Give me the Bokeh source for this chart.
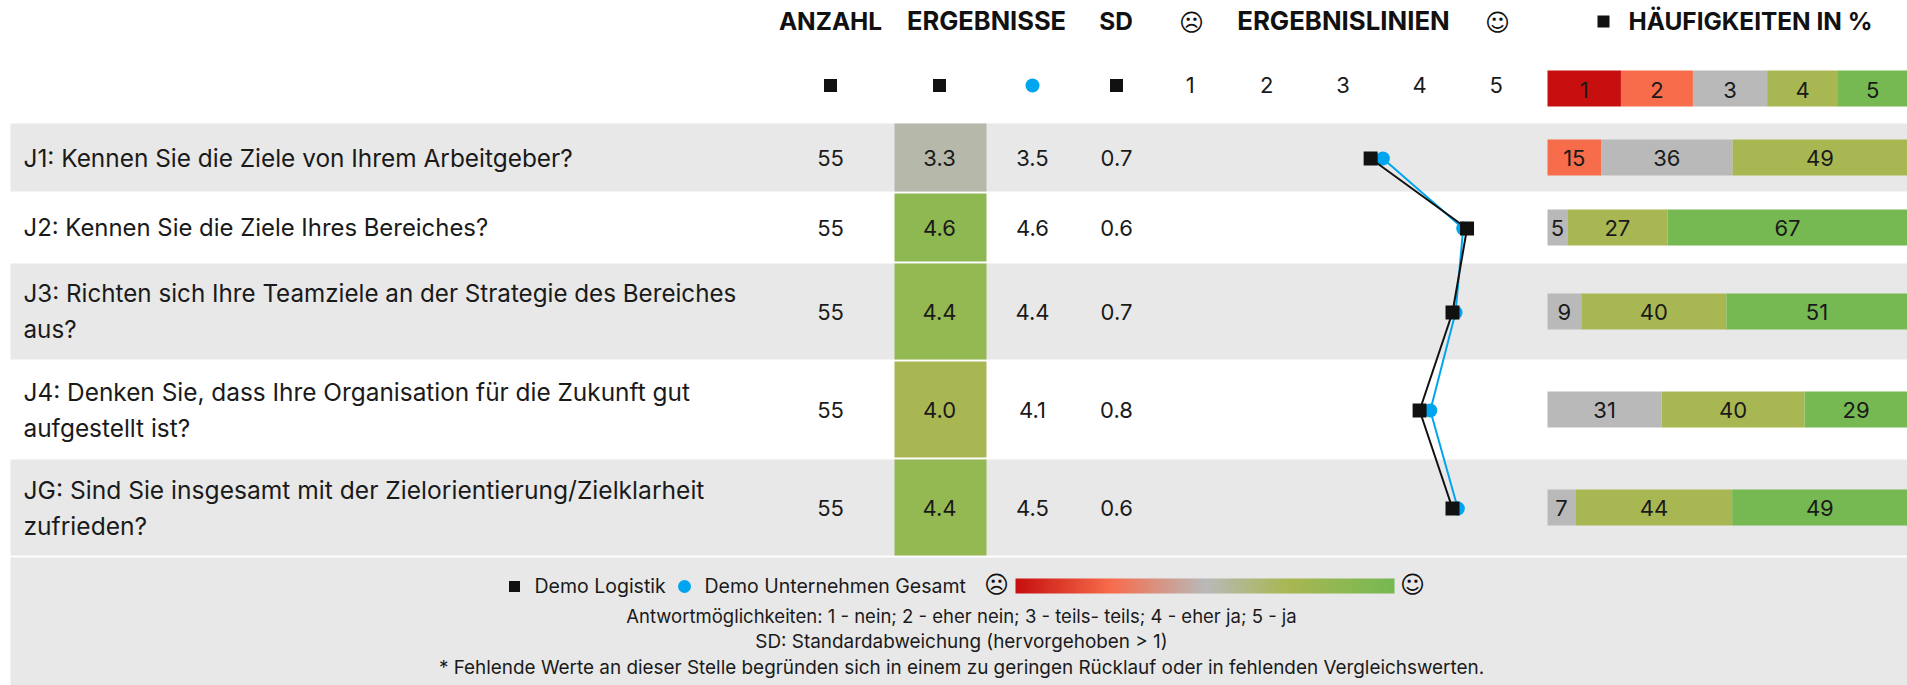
import numpy as np
from bokeh.plotting import figure
from bokeh.models import Range1d, LinearColorMapper
from bokeh.core.properties import value
from bokeh.embed import file_html
from bokeh.resources import INLINE

FONT = "Inter"
ICON = "DejaVu Sans"

# ---- data ----
question_lines = [
    ["J1: Kennen Sie die Ziele von Ihrem Arbeitgeber?"],
    ["J2: Kennen Sie die Ziele Ihres Bereiches?"],
    ["J3: Richten sich Ihre Teamziele an der Strategie des Bereiches", "aus?"],
    ["J4: Denken Sie, dass Ihre Organisation für die Zukunft gut", "aufgestellt ist?"],
    ["JG: Sind Sie insgesamt mit der Zielorientierung/Zielklarheit", "zufrieden?"],
]
counts = ["55", "55", "55", "55", "55"]
result_labels = ["3.3", "4.6", "4.4", "4.0", "4.4"]
company_labels = ["3.5", "4.6", "4.4", "4.1", "4.5"]
sd_labels = ["0.7", "0.6", "0.7", "0.8", "0.6"]
result_colors = ["#B6B8A9", "#8DB852", "#94B852", "#A9B752", "#94B852"]
demo_values = [3.36, 4.62, 4.43, 4.00, 4.43]
company_values = [3.52, 4.57, 4.47, 4.14, 4.50]
score_ticks = ["1", "2", "3", "4", "5"]
scale_shares = [20.4, 20.0, 20.6, 19.7, 19.3]
scale_colors = ["#C70F0F", "#F76C4B", "#B9B9B9", "#A9B752", "#76B852"]
freq_values = [
    [0, 14.9, 36.5, 48.6, 0],
    [0, 0, 5.5, 27.8, 66.7],
    [0, 0, 9.4, 40.3, 50.3],
    [0, 0, 31.7, 39.7, 28.6],
    [0, 0, 7.8, 43.5, 48.7],
]
freq_labels = [
    ["", "15", "36", "49", ""],
    ["", "", "5", "27", "67"],
    ["", "", "9", "40", "51"],
    ["", "", "31", "40", "29"],
    ["", "", "7", "44", "49"],
]
legend_demo = "Demo Logistik"
legend_company = "Demo Unternehmen Gesamt"
footnotes = [
    "Antwortmöglichkeiten: 1 - nein; 2 - eher nein; 3 - teils- teils; 4 - eher ja; 5 - ja",
    "SD: Standardabweichung (hervorgehoben > 1)",
    "* Fehlende Werte an dieser Stelle begründen sich in einem zu geringen Rücklauf oder in fehlenden Vergleichswerten.",
]

# ---- layout (page pixels) ----
W0, W1, H0, H1 = 0, 1907, 0, 685
BAND_L = 10
row_top = [123, 193, 263, 361, 459]
row_bot = [191, 261, 359, 457, 555]
row_mid = [157, 227, 311, 409, 507]
LINE_GAP = 18
X_LABEL, X_COUNT, X_RES, X_COMP, X_SD = 23, 830, 939, 1032, 1116
RES_L, RES_R = 894, 986
S1_X, S_STEP = 1189.6, 76.5
P0_X, P_STEP = 1547.0, 3.6
question_sizes = [24.4, 23.9, 24.2, 24.4, 24.6]
NUM_SIZE = 22

p = figure(width=W1 - W0, height=H1 - H0, output_backend="svg", toolbar_location=None,
           x_range=Range1d(W0, W1), y_range=Range1d(H1, H0),
           min_border=0, outline_line_color=None, x_axis_location=None, y_axis_location=None)
p.grid.visible = False
p.background_fill_color = "white"
p.border_fill_color = "white"
p.extra_x_ranges = {
    "score": Range1d(1 + (W0 - S1_X) / S_STEP, 1 + (W1 - S1_X) / S_STEP),
    "pct": Range1d((W0 - P0_X) / P_STEP, (W1 - P0_X) / P_STEP),
}

def txt(x, y, t, size=NUM_SIZE, color="#1A1A1A", font=FONT, style="normal", align="center", rng="default"):
    p.text(x=x, y=y, text=t, text_font=value(font), text_font_size=f"{size}px",
           text_font_style=style, text_align=align, text_baseline="middle",
           text_color=color, x_range_name=rng)

# bands
for i in (0, 2, 4):
    p.quad(left=BAND_L, right=W1, top=row_top[i], bottom=row_bot[i], fill_color="#E8E8E8", line_color=None)
p.quad(left=BAND_L, right=W1, top=557, bottom=H1, fill_color="#E8E8E8", line_color=None)

# result boxes
p.quad(left=[RES_L] * 5, right=[RES_R] * 5, top=row_top, bottom=row_bot, fill_color=result_colors, line_color=None)

# header titles
txt([830], [20], ["ANZAHL"], 24.4, "#111111", style="bold")
txt([986], [20], ["ERGEBNISSE"], 25.5, "#111111", style="bold")
txt([1115.5], [20], ["SD"], 24.4, "#111111", style="bold")
txt([1343], [20], ["ERGEBNISLINIEN"], 25.8, "#111111", style="bold")
txt([1750], [20], ["HÄUFIGKEITEN IN %"], 24.4, "#111111", style="bold")
txt([1191], [22], ["\u2639"], 24, "#111111", font=ICON)
txt([1497], [22], ["\u263A"], 24, "#111111", font=ICON)
p.scatter(x=[1603], y=[21], size=12, marker="square", fill_color="#111111", line_color=None)

# second header line
p.scatter(x=[X_COUNT, X_RES, X_SD], y=[85] * 3, size=13, marker="square", fill_color="#111111", line_color=None)
p.scatter(x=[X_COMP], y=[85], size=14, marker="circle", fill_color="#00A5F0", line_color=None)
txt([1, 2, 3, 4, 5], [84] * 5, score_ticks, rng="score")

# frequency header scale
edges = np.concatenate([[0], np.cumsum(scale_shares)])
p.quad(left=edges[:-1], right=edges[1:], top=[70] * 5, bottom=[106] * 5, fill_color=scale_colors,
       line_color=None, x_range_name="pct")
txt((edges[:-1] + edges[1:]) / 2, [89] * 5, score_ticks, rng="pct")

# rows
for i, lines in enumerate(question_lines):
    if len(lines) == 1:
        txt([X_LABEL], [row_mid[i]], lines, question_sizes[i], align="left")
    else:
        txt([X_LABEL, X_LABEL], [row_mid[i] - LINE_GAP, row_mid[i] + LINE_GAP], lines, question_sizes[i], align="left")
    vals = np.array(freq_values[i], dtype=float)
    e = np.concatenate([[0], np.cumsum(vals)])
    keep = vals > 0
    p.quad(left=e[:-1][keep], right=e[1:][keep], top=[row_mid[i] - 18] * int(keep.sum()),
           bottom=[row_mid[i] + 18] * int(keep.sum()), fill_color=np.array(scale_colors)[keep].tolist(),
           line_color=None, x_range_name="pct")
    txt(((e[:-1] + e[1:]) / 2)[keep], row_mid[i:i + 1] * int(keep.sum()),
        [l for l, k in zip(freq_labels[i], keep) if k], rng="pct")

txt([X_COUNT] * 5, row_mid, counts)
txt([X_RES] * 5, row_mid, result_labels)
txt([X_COMP] * 5, row_mid, company_labels)
txt([X_SD] * 5, row_mid, sd_labels)

# profile lines
mark_y = [m + 1 for m in row_mid]
p.line(company_values, mark_y, line_color="#00A5F0", line_width=2, x_range_name="score")
p.scatter(company_values, mark_y, size=14, marker="circle", fill_color="#00A5F0", line_color=None, x_range_name="score")
p.line(demo_values, mark_y, line_color="#111111", line_width=2, x_range_name="score")
p.scatter(demo_values, mark_y, size=14, marker="square", fill_color="#111111", line_color=None, x_range_name="score")

# footer
LEG_SIZE = 19.5
p.scatter(x=[514], y=[586], size=11, marker="square", fill_color="#111111", line_color=None)
txt([534], [585.5], [legend_demo], LEG_SIZE, align="left")
p.scatter(x=[684], y=[586], size=13, marker="circle", fill_color="#00A5F0", line_color=None)
txt([704], [585.5], [legend_company], LEG_SIZE, align="left")
txt([996], [584], ["\u2639"], 24, "#111111", font=ICON)
txt([1412], [584], ["\u263A"], 24, "#111111", font=ICON)
grad = LinearColorMapper(palette=[
    "#%02X%02X%02X" % tuple(int(round(np.interp(t, [0, .25, .5, .72, 1], c))) for c in (
        [0xC7, 0xF7, 0xB9, 0xA9, 0x76], [0x0F, 0x6C, 0xB9, 0xB7, 0xB8], [0x0F, 0x4B, 0xB9, 0x52, 0x52]))
    for t in np.linspace(0, 1, 256)], low=0, high=1)
p.image(image=[np.linspace(0, 1, 379).reshape(1, -1)], x=1015, y=578, dw=379, dh=15, color_mapper=grad)
for y, t, s in zip([615, 641, 667], footnotes, [18.5, 18.9, 18.9]):
    txt([961], [y], [t], s)

open("out.html", "w").write(file_html(p, INLINE))
